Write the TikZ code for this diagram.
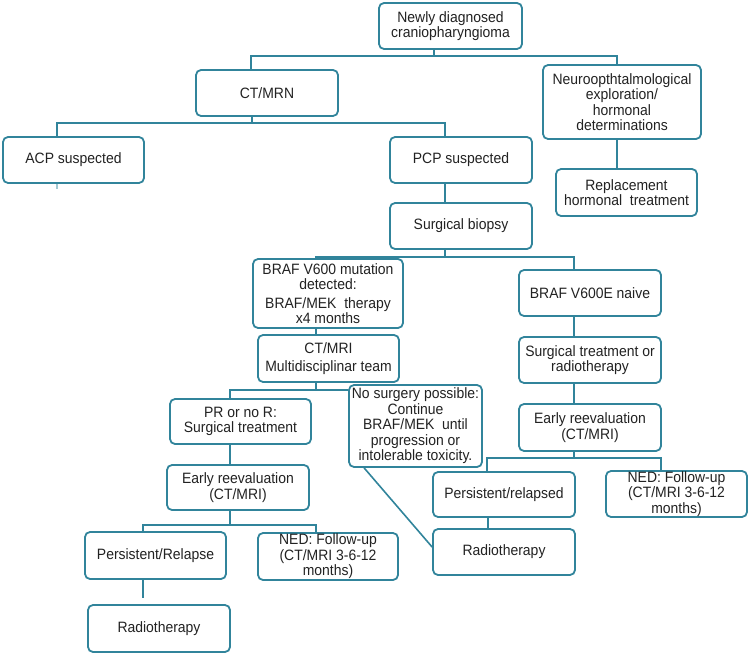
\documentclass[tikz,border=0pt]{standalone}
\usepackage{fontspec}
\setmainfont{Liberation Sans}[FakeStretch=0.93]
\definecolor{boxline}{RGB}{49,132,155}
\definecolor{txt}{RGB}{34,34,34}
\begin{document}
\begin{tikzpicture}[x=1pt,y=-1pt,
  box/.style={draw=boxline, line width=1.8pt, rounded corners=5pt, fill=white, align=center,
    inner sep=0pt, text=txt, font=\fontsize{15}{15.5}\selectfont},
  conn/.style={draw=boxline, line width=1.6pt}]
\useasboundingbox (0,0) rectangle (750,655);
% nodes
\node[box, minimum width=143pt, minimum height=46pt] (new) at (450.5,26) {Newly diagnosed\\craniopharyngioma};
\node[box, minimum width=142pt, minimum height=46pt] (ctmrn) at (267,93) {CT/MRN};
\node[box, minimum width=158pt, minimum height=74pt] (neuro) at (622,102) {Neuroopthtalmological\\exploration/\\hormonal\\determinations};
\node[box, minimum width=141pt, minimum height=46pt] (acp) at (73.5,160) {ACP suspected};
\node[box, minimum width=142pt, minimum height=46pt] (pcp) at (461,160) {PCP suspected};
\node[box, minimum width=141pt, minimum height=47pt] (repl) at (626.5,192.5) {Replacement\\hormonal\ \ treatment};
\node[box, minimum width=142pt, minimum height=46pt] (biopsy) at (461,226) {Surgical biopsy};
\node[box, minimum width=150pt, minimum height=69pt] (braf) at (328,293.5) {BRAF V600 mutation\\detected:\\[3pt]BRAF/MEK\ \ therapy\\x4 months};
\node[box, minimum width=142pt, minimum height=46pt] (naive) at (590,293) {BRAF V600E naive};
\node[box, minimum width=141pt, minimum height=47pt] (ctmri) at (328.5,358.5) {CT/MRI\\[2.5pt]Multidisciplinar team};
\node[box, minimum width=142pt, minimum height=46pt] (surgrad) at (590,360) {Surgical treatment or\\radiotherapy};
\node[box, minimum width=141pt, minimum height=45pt] (pr) at (240.5,421.5) {PR or no R:\\Surgical treatment};
\node[box, minimum width=133pt, minimum height=82pt] (nosurg) at (415.5,426) {No surgery possible:\\Continue\\BRAF/MEK\ \ until\\progression or\\intolerable toxicity.};
\node[box, minimum width=142pt, minimum height=47pt] (early2) at (590,427.5) {Early reevaluation\\(CT/MRI)};
\node[box, minimum width=142pt, minimum height=45pt] (early1) at (238,487.5) {Early reevaluation\\(CT/MRI)};
\node[box, minimum width=142pt, minimum height=45pt] (pers2) at (504,494.5) {Persistent/relapsed};
\node[box, minimum width=141pt, minimum height=46pt] (ned2) at (676.5,494) {NED: Follow-up\\(CT/MRI 3-6-12\\months)};
\node[box, minimum width=142pt, minimum height=46pt] (rad2) at (504,552) {Radiotherapy};
\node[box, minimum width=141pt, minimum height=47pt] (pers1) at (155.5,555.5) {Persistent/Relapse};
\node[box, minimum width=140pt, minimum height=47pt] (ned1) at (328,556.5) {NED: Follow-up\\(CT/MRI 3-6-12\\months)};
\node[box, minimum width=142pt, minimum height=47pt] (rad1) at (159,628.5) {Radiotherapy};
% connectors
\coordinate (j1) at ([xshift=-16.5pt,yshift=-6pt]new.south);
\draw[conn] ([xshift=-16.5pt]new.south) -- (j1);
\draw[conn] (j1) -| ([xshift=-16pt]ctmrn.north);
\draw[conn] (j1) -| ([xshift=-5pt]neuro.north);
\coordinate (j2) at ([xshift=-15pt,yshift=-6pt]ctmrn.south);
\draw[conn] ([xshift=-15pt]ctmrn.south) -- (j2);
\draw[conn] (j2) -| ([xshift=-16.5pt]acp.north);
\draw[conn] (j2) -| ([xshift=-16pt]pcp.north);
\coordinate (acpend) at ([xshift=-16.5pt,yshift=-5pt]acp.south);
\draw[conn, draw=boxline!45] ([xshift=-16.5pt]acp.south) -- (acpend);
\draw[conn] ([xshift=-16pt]pcp.south) -- ([xshift=-16pt]biopsy.north);
\draw[conn] ([xshift=-5pt]neuro.south) -- ([xshift=-5pt]neuro.south |- repl.north);
\coordinate (j3) at ([xshift=-16pt,yshift=-7pt]biopsy.south);
\draw[conn] ([xshift=-16pt]biopsy.south) -- (j3);
\draw[conn] (j3) -| ([xshift=-12pt]braf.north);
\draw[conn] (j3) -| ([xshift=-16pt]naive.north);
\draw[conn] ([xshift=-12pt]braf.south) -- ([xshift=-12pt]braf.south |- ctmri.north);
\coordinate (j4) at ([xshift=-12.5pt,yshift=-7pt]ctmri.south);
\draw[conn] ([xshift=-12.5pt]ctmri.south) -- (j4);
\draw[conn] ([xshift=-10.5pt]pr.north) |- (j4 -| nosurg.west);
\draw[conn] ([xshift=-16pt]naive.south) -- ([xshift=-16pt]surgrad.north);
\draw[conn] ([xshift=-16pt]surgrad.south) -- ([xshift=-16pt]early2.north);
\coordinate (j5) at ([xshift=-16pt,yshift=-6pt]early2.south);
\draw[conn] ([xshift=-16pt]early2.south) -- (j5);
\draw[conn] (j5) -| ([xshift=-17pt]pers2.north);
\draw[conn] (j5) -| ([xshift=-15.5pt]ned2.north);
\draw[conn] ([xshift=-16pt]pers2.south) -- ([xshift=-16pt]rad2.north);
\draw[conn] ([xshift=16pt]nosurg.south west) -- ([yshift=5pt]rad2.west);
\draw[conn] ([xshift=-10.5pt]pr.south) -- ([xshift=-10.5pt]pr.south |- early1.north);
\coordinate (j6) at ([xshift=-8pt,yshift=-14pt]early1.south);
\draw[conn] ([xshift=-8pt]early1.south) -- (j6);
\draw[conn] (j6) -| ([xshift=-12.5pt]pers1.north);
\draw[conn] (j6) -| ([xshift=-12pt]ned1.north);
\coordinate (p1end) at ([xshift=-12.5pt,yshift=-18pt]pers1.south);
\draw[conn] ([xshift=-12.5pt]pers1.south) -- (p1end);
\end{tikzpicture}
\end{document}
